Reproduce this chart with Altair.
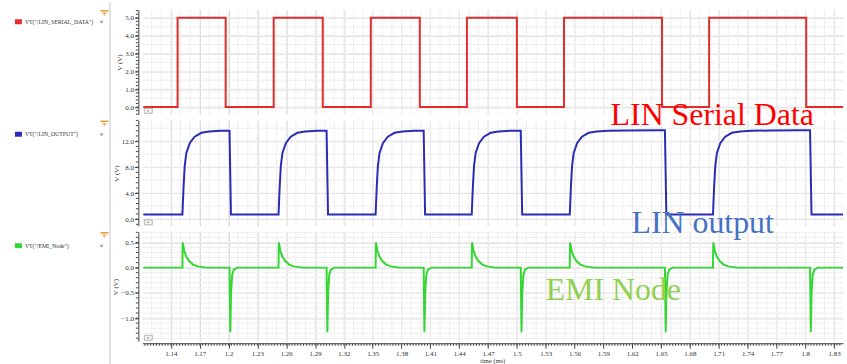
import altair as alt
import numpy as np
import pandas as pd

# ---------------- data ----------------
X_DOMAIN = [1.1103, 1.8393]          # time (ms)
T_START, T_END = 1.1113, 1.8393

x_ticks = [1.14, 1.17, 1.2, 1.23, 1.26, 1.29, 1.32, 1.35, 1.38, 1.41, 1.44, 1.47,
           1.5, 1.53, 1.56, 1.59, 1.62, 1.65, 1.68, 1.71, 1.74, 1.77, 1.8, 1.83]

# LIN serial data (square wave, 0 / 5 V)
serial_rise = [1.147, 1.247, 1.348, 1.448, 1.549, 1.700]
serial_fall = [1.197, 1.298, 1.399, 1.500, 1.651, 1.801]
serial_low, serial_high = 0.0, 5.0

# LIN output edges (slightly delayed)
out_rise = [1.152, 1.252, 1.353, 1.453, 1.555, 1.704]
out_fall = [1.201, 1.302, 1.403, 1.504, 1.654, 1.805]
out_low = 0.7
out_rise_dt = [0.0, 0.0012, 0.0024, 0.0041, 0.0076, 0.0127, 0.0197, 0.028, 0.04, 0.06, 0.09]
out_rise_v = [0.7, 5.0, 8.2, 10.2, 11.7, 12.7, 13.3, 13.5, 13.6, 13.65, 13.7]
out_fall_dt = 0.0015

# EMI node spikes
emi_pos_dt = [0.0, 0.0003, 0.002, 0.004, 0.007, 0.011, 0.016, 0.025]
emi_pos_v = [0.0, 0.5, 0.33, 0.22, 0.13, 0.06, 0.025, 0.0]
emi_neg_dt = [0.0, 0.0008, 0.0016, 0.0028, 0.0045, 0.008]
emi_neg_v = [0.0, -1.28, -0.5, -0.14, -0.04, 0.0]

# ---------------- build series ----------------
t, v = [T_START], [serial_low]
for r, f in zip(serial_rise, serial_fall):
    t += [r, r, f, f]
    v += [serial_low, serial_high, serial_high, serial_low]
t.append(T_END); v.append(serial_low)
df_serial = pd.DataFrame({"t": t, "v": v, "i": range(len(t))})

t, v = [T_START], [out_low]
for r, f in zip(out_rise, out_fall):
    last = out_low
    for dt, val in zip(out_rise_dt, out_rise_v):
        if r + dt < f:
            t.append(r + dt); v.append(val); last = val
    t.append(f); v.append(last)
    t.append(f + out_fall_dt); v.append(out_low)
t.append(T_END); v.append(out_low)
df_out = pd.DataFrame({"t": t, "v": v, "i": range(len(t))})

t, v = [T_START], [0.0]
for r, f in zip(out_rise, out_fall):
    for dt, val in zip(emi_pos_dt, emi_pos_v):
        t.append(r + dt); v.append(val)
    for dt, val in zip(emi_neg_dt, emi_neg_v):
        t.append(f + dt); v.append(val)
t.append(T_END); v.append(0.0)
df_emi = pd.DataFrame({"t": t, "v": v, "i": range(len(t))})

# ---------------- layout ----------------
PLOT_W = 704
H1, H2, H3 = 105, 106, 110
GAP = 6
FONT = "Liberation Serif"
one = pd.DataFrame({"a": [0]})

x_minor_grid = pd.DataFrame({"t": np.round(np.arange(1.12, 1.84, 0.01), 3)})
x_minor_ticks = pd.DataFrame({"t": np.round(np.arange(1.113, 1.839, 0.003), 4)})


def xscale():
    return alt.Scale(domain=X_DOMAIN, nice=False, zero=False)


def make_panel(df, color, ydom, yticks, ygrid_step, ytick_step, h, label,
               legend_y, top_ext, bottom_ext, show_x, extra=None):
    if show_x:
        xaxis = alt.Axis(values=x_ticks, format="~g", grid=True, gridColor="#d6d6d6",
                         offset=2, tickSize=5, tickColor="#444", domainColor="#444",
                         labelFont=FONT, labelFontSize=7, labelColor="#333",
                         labelPadding=1, labelOverlap=False, labelFlush=False,
                         title="time (ms)", titleFont=FONT, titleFontSize=6.5,
                         titleFontWeight="normal", titleColor="#333",
                         titleX=339, titleY=19, titleAlign="left",
                         titleBaseline="alphabetic")
    else:
        xaxis = alt.Axis(values=x_ticks, grid=True, gridColor="#d6d6d6", labels=False,
                         ticks=False, domain=False, title=None)
    yaxis = alt.Axis(values=yticks, format=".1f", grid=True, gridColor="#d6d6d6",
                     offset=4, tickSize=4, tickColor="#444", domainColor="#444",
                     labelFont=FONT, labelFontSize=7, labelColor="#333", labelPadding=1,
                     title="V (V)", titleFont=FONT, titleFontSize=7,
                     titleFontWeight="normal", titleColor="#333", titlePadding=2)
    ysc = alt.Scale(domain=ydom, nice=False, zero=False)
    X = alt.X("t:Q", scale=xscale(), axis=xaxis)
    Y = alt.Y("v:Q", scale=ysc, axis=yaxis)

    y_minor_grid = pd.DataFrame({"v": np.round(np.arange(ydom[0] - ydom[0] % ygrid_step, ydom[1], ygrid_step), 4)})
    y_minor_grid = y_minor_grid[(y_minor_grid.v >= ydom[0]) & (y_minor_grid.v <= ydom[1])]
    y_minor_ticks = pd.DataFrame({"v": np.round(np.arange(ydom[0] - ydom[0] % ytick_step, ydom[1], ytick_step), 4)})
    y_minor_ticks = y_minor_ticks[(y_minor_ticks.v >= ydom[0]) & (y_minor_ticks.v <= ydom[1])]

    layers = []
    layers.append(alt.Chart(one).mark_rect(color="white").encode(
        x=alt.value(-143), x2=alt.value(-34), y=alt.value(-top_ext), y2=alt.value(h + bottom_ext)))
    layers.append(alt.Chart(one).mark_rule(color="#c8c8c8", strokeWidth=1).encode(
        x=alt.value(-32.5), y=alt.value(-top_ext), y2=alt.value(h + bottom_ext)))
    layers.append(alt.Chart(x_minor_grid).mark_rule(color="#eeeeee", strokeWidth=1).encode(
        x=X, y=alt.value(0), y2=alt.value(h)))
    layers.append(alt.Chart(y_minor_grid).mark_rule(color="#eeeeee", strokeWidth=1).encode(
        y=Y, x=alt.value(0), x2=alt.value(PLOT_W)))
    layers.append(alt.Chart(y_minor_ticks).mark_rule(color="#444", strokeWidth=1).encode(
        y=Y, x=alt.value(-6.5), x2=alt.value(-4)))
    if show_x:
        layers.append(alt.Chart(x_minor_ticks).mark_rule(color="#444", strokeWidth=1).encode(
            x=X, y=alt.value(h + 2), y2=alt.value(h + 4.5)))
    layers.append(alt.Chart(df).mark_line(color=color, strokeWidth=2).encode(
        x=X, y=Y, order="i:Q"))
    # legend entry
    layers.append(alt.Chart(one).mark_rect(color=color).encode(
        x=alt.value(-128), x2=alt.value(-121), y=alt.value(legend_y - 2.5), y2=alt.value(legend_y + 2.5)))
    layers.append(alt.Chart(one).mark_text(align="left", baseline="middle", font=FONT,
                                           fontSize=5.8, color="#333").encode(
        x=alt.value(-118), y=alt.value(legend_y), text=alt.value(label)))
    # eye icon
    layers.append(alt.Chart(one).mark_point(shape="circle", filled=True, color="#8090a0", size=10).encode(
        x=alt.value(-41), y=alt.value(legend_y)))
    # funnel icon
    layers.append(alt.Chart(one).mark_rule(color="#e39a3b", strokeWidth=1.5).encode(
        x=alt.value(-42), x2=alt.value(-34), y=alt.value(1)))
    layers.append(alt.Chart(one).mark_point(shape="triangle-down", filled=True, color="#e39a3b", size=22).encode(
        x=alt.value(-38), y=alt.value(4.5)))
    # small expander box bottom-left
    layers.append(alt.Chart(one).mark_rect(fill="#f4f4f4", stroke="#999999", strokeWidth=0.7).encode(
        x=alt.value(2), x2=alt.value(10), y=alt.value(h - 6), y2=alt.value(h - 1)))
    layers.append(alt.Chart(one).mark_point(shape="triangle-right", filled=True, color="#666666", size=5).encode(
        x=alt.value(6), y=alt.value(h - 3.5)))
    if extra:
        layers += extra
    return alt.layer(*layers).properties(width=PLOT_W, height=h)


def overlay(text, color, x, y):
    return alt.Chart(one).mark_text(align="left", baseline="alphabetic", font=FONT,
                                    fontSize=32, color=color).encode(
        x=alt.value(x), y=alt.value(y), text=alt.value(text))


p1 = make_panel(df_serial, "#e22d2d", [-0.407, 5.446], [0, 1, 2, 3, 4, 5], 0.5, 0.2,
                H1, 'VT("/LIN_SERIAL_DATA")', 12, 8, GAP, False)
p2 = make_panel(df_out, "#2b2bb5", [-1.027, 15.22], [0, 4, 8, 12], 2, 0.8,
                H2, 'VT("/LIN_OUTPUT")', 14, 0, GAP, False)
texts = [
    overlay("LIN Serial Data", "#ff0000", 470.5, -107.5),
    overlay("LIN output", "#4472c4", 491.5, 1.3),
    overlay("EMI Node", "#92d050", 405.3, 68.3),
]
p3 = make_panel(df_emi, "#33d633", [-1.46, 0.711], [-1.0, -0.5, 0.0, 0.5], 0.1, 0.1,
                H3, 'VT("/EMI_Node")', 14, 0, 24, True, extra=texts)

chart = alt.vconcat(p1, p2, p3, spacing=GAP, bounds="flush").properties(
    padding=0, background="white"
).configure_view(stroke=None)

chart.save("out.html", embed_options={"renderer": "svg", "actions": False})
